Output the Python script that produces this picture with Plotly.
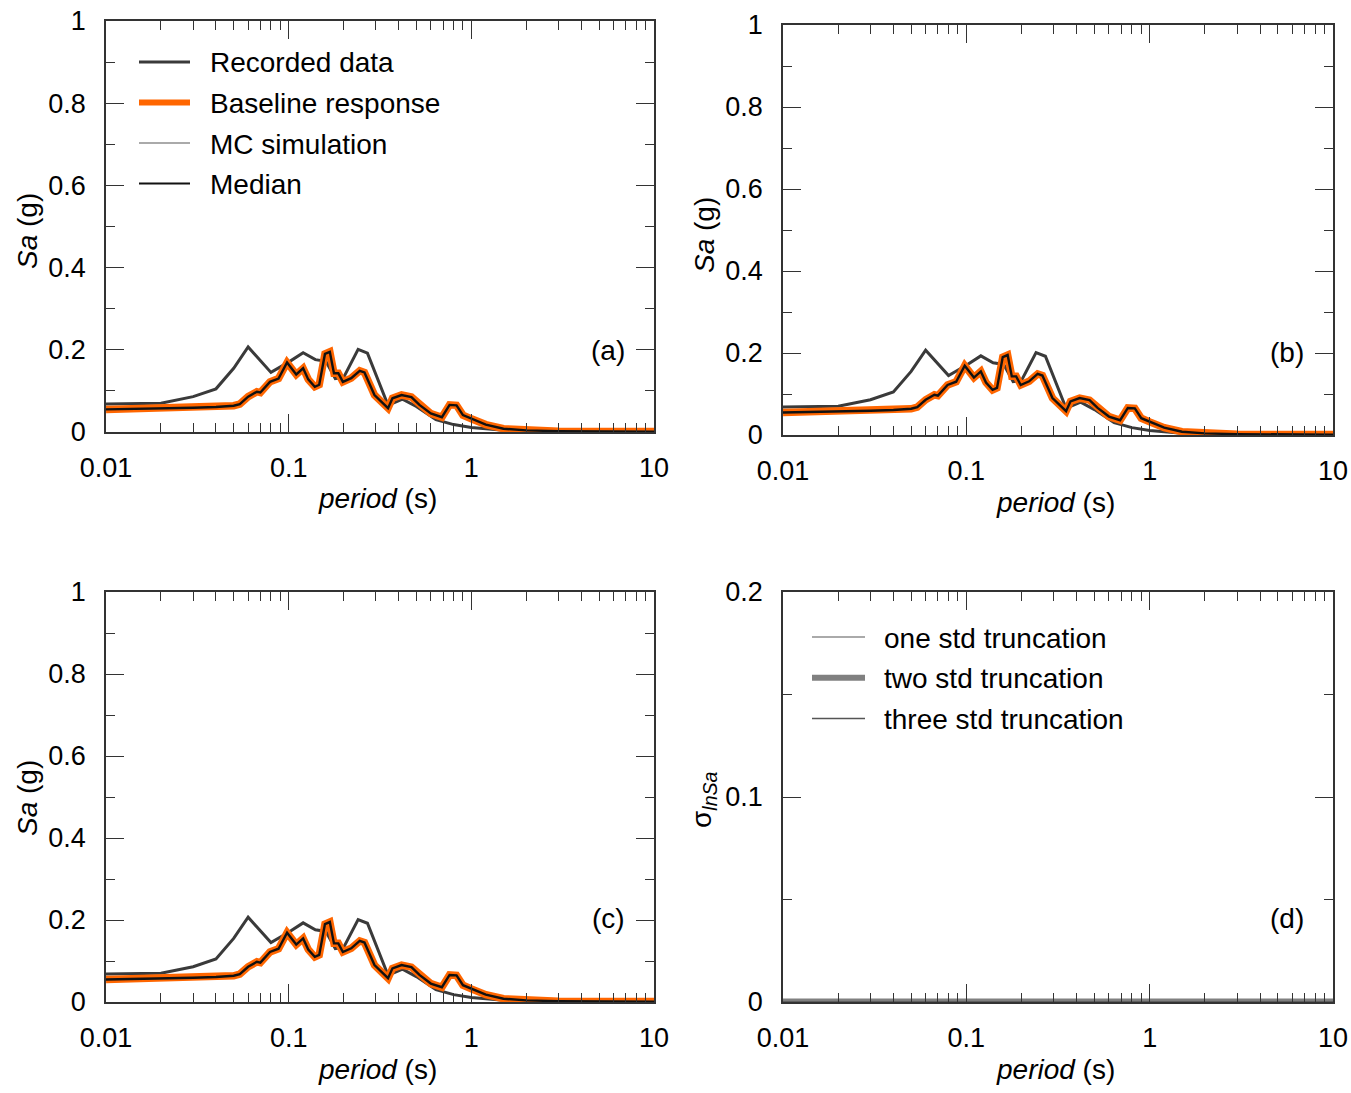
import plotly.graph_objects as go

# ---------------- data ----------------
# Recorded spectrum (period in s, Sa in g)
rec_period = [0.01, 0.02, 0.03, 0.04, 0.05, 0.06, 0.08, 0.10, 0.12, 0.14, 0.16,
              0.18, 0.20, 0.24, 0.27, 0.35, 0.42, 0.50, 0.64, 0.80, 1.0, 1.5,
              2.0, 3.0, 5.0, 10.0]
rec_sa = [0.068, 0.070, 0.086, 0.105, 0.155, 0.207, 0.145, 0.170, 0.193, 0.176,
          0.172, 0.130, 0.133, 0.201, 0.192, 0.065, 0.080, 0.062, 0.030, 0.018,
          0.011, 0.004, 0.002, 0.001, 0.001, 0.001]

# Baseline / MC / median response spectra
sim_period = [0.01, 0.02, 0.03, 0.04, 0.05, 0.054, 0.06, 0.067, 0.07, 0.079,
              0.088, 0.098, 0.11, 0.12, 0.128, 0.139, 0.147, 0.158, 0.168,
              0.177, 0.187, 0.198, 0.22, 0.245, 0.26, 0.295, 0.35, 0.37, 0.415,
              0.47, 0.52, 0.60, 0.69, 0.76, 0.83, 0.90, 1.0, 1.2, 1.5, 2.0,
              3.0, 5.0, 10.0]
baseline_sa = [0.055, 0.057, 0.059, 0.061, 0.064, 0.068, 0.086, 0.098, 0.096,
               0.122, 0.130, 0.169, 0.140, 0.155, 0.128, 0.110, 0.115, 0.190,
               0.195, 0.143, 0.143, 0.122, 0.131, 0.149, 0.145, 0.090, 0.058,
               0.082, 0.090, 0.085, 0.066, 0.045, 0.036, 0.066, 0.065, 0.041,
               0.032, 0.018, 0.008, 0.004, 0.002, 0.001, 0.001]
mc_sa = [0.055, 0.057, 0.059, 0.061, 0.064, 0.068, 0.086, 0.098, 0.096,
         0.122, 0.130, 0.169, 0.140, 0.155, 0.128, 0.110, 0.115, 0.190,
         0.195, 0.143, 0.143, 0.122, 0.131, 0.149, 0.145, 0.090, 0.058,
         0.082, 0.090, 0.085, 0.066, 0.045, 0.036, 0.066, 0.065, 0.041,
         0.032, 0.018, 0.008, 0.004, 0.002, 0.001, 0.001]
median_sa = [0.055, 0.057, 0.059, 0.061, 0.064, 0.068, 0.086, 0.098, 0.096,
             0.122, 0.130, 0.169, 0.140, 0.155, 0.128, 0.110, 0.115, 0.190,
             0.195, 0.143, 0.143, 0.122, 0.131, 0.149, 0.145, 0.090, 0.058,
             0.082, 0.090, 0.085, 0.066, 0.045, 0.036, 0.066, 0.065, 0.041,
             0.032, 0.018, 0.008, 0.004, 0.002, 0.001, 0.001]

# Dispersion of ln Sa for the truncation cases
sig_period = [0.01, 0.02, 0.05, 0.1, 0.2, 0.5, 1.0, 2.0, 5.0, 10.0]
sig_one = [0.0, 0.0, 0.0, 0.0, 0.0, 0.0, 0.0, 0.0, 0.0, 0.0]
sig_two = [0.0, 0.0, 0.0, 0.0, 0.0, 0.0, 0.0, 0.0, 0.0, 0.0]
sig_three = [0.0, 0.0, 0.0, 0.0, 0.0, 0.0, 0.0, 0.0, 0.0, 0.0]

x_tickvals = [0.01, 0.1, 1, 10]
x_ticktext = ["0.01", "0.1", "1", "10"]
panel_tags = ["(a)", "(b)", "(c)", "(d)"]

# ---------------- styling ----------------
W, H = 1351, 1093
FONT = "Liberation Sans, Arial, sans-serif"
FS_TICK = 27
FS = 28
AXC = "#333333"
C_REC = "#3a3a3a"
C_BASE = "#FF6600"
C_MC = "#AAAAAA"
C_MED = "#111111"


def px(x):
    return x / W


def py(y):
    return 1 - y / H


# plot-area boxes in pixels: (left, top, right, bottom)
boxes = [(106, 21, 654, 432), (783, 25, 1333, 435),
         (106, 592, 654, 1002), (783, 592, 1333, 1002)]

minor_x = [m * 10.0 ** e for e in (-2, -1, 0) for m in range(2, 10)]

fig = go.Figure()

for i, (l, t, r, b) in enumerate(boxes):
    n = "" if i == 0 else str(i + 1)
    xa, ya = "x" + n, "y" + n
    fig.update_layout(**{
        "xaxis" + n: dict(
            type="log", range=[-2, 1], domain=[px(l), px(r)], anchor=ya,
            tickmode="array", tickvals=x_tickvals, ticktext=x_ticktext,
            ticks="inside", ticklen=18, tickwidth=1, tickcolor=AXC,
            showline=True, linecolor=AXC, linewidth=1.5, mirror="ticks",
            showgrid=False, zeroline=False, ticklabelstandoff=11,
            automargin=False,
            tickfont=dict(family=FONT, size=FS_TICK, color="#000"),
            minor=dict(tickmode="array", tickvals=minor_x, ticks="inside",
                       ticklen=9, tickwidth=1, tickcolor=AXC, showgrid=False),
        ),
        "yaxis" + n: dict(
            range=[0, 0.2] if i == 3 else [0, 1],
            dtick=0.1 if i == 3 else 0.2,
            domain=[py(b), py(t)], anchor=xa,
            ticks="inside", ticklen=18, tickwidth=1, tickcolor=AXC,
            showline=True, linecolor=AXC, linewidth=1.5, mirror="ticks",
            showgrid=False, zeroline=False, ticklabelstandoff=13,
            automargin=False,
            tickfont=dict(family=FONT, size=FS_TICK, color="#000"),
            minor=dict(dtick=0.05 if i == 3 else 0.1, ticks="inside",
                       ticklen=9, tickwidth=1, tickcolor=AXC, showgrid=False),
        ),
    })

    if i < 3:
        fig.add_trace(go.Scatter(x=rec_period, y=rec_sa, mode="lines",
                                 line=dict(color=C_REC, width=3),
                                 xaxis=xa, yaxis=ya, showlegend=False))
        fig.add_trace(go.Scatter(x=sim_period, y=mc_sa, mode="lines",
                                 line=dict(color=C_MC, width=1.5),
                                 xaxis=xa, yaxis=ya, showlegend=False))
        fig.add_trace(go.Scatter(x=sim_period, y=baseline_sa, mode="lines",
                                 line=dict(color=C_BASE, width=7.5),
                                 xaxis=xa, yaxis=ya, showlegend=False))
        fig.add_trace(go.Scatter(x=sim_period, y=median_sa, mode="lines",
                                 line=dict(color=C_MED, width=2.4),
                                 xaxis=xa, yaxis=ya, showlegend=False))
    else:
        fig.add_trace(go.Scatter(x=sig_period, y=sig_one, mode="lines",
                                 line=dict(color="#AAAAAA", width=2),
                                 xaxis=xa, yaxis=ya, showlegend=False))
        fig.add_trace(go.Scatter(x=sig_period, y=sig_two, mode="lines",
                                 line=dict(color="#808080", width=7),
                                 xaxis=xa, yaxis=ya, showlegend=False))
        fig.add_trace(go.Scatter(x=sig_period, y=sig_three, mode="lines",
                                 line=dict(color="#555555", width=1.5),
                                 xaxis=xa, yaxis=ya, showlegend=False))

annotations = []
shapes = []


def text(x, y, s, anchor="center", angle=0, size=FS):
    annotations.append(dict(x=px(x), y=py(y), xref="paper", yref="paper",
                            text=s, showarrow=False, xanchor=anchor,
                            yanchor="middle", textangle=angle,
                            font=dict(family=FONT, size=size, color="#000")))


# axis titles and panel tags
for (l, t, r, b), tag, tx, ty in zip(boxes, panel_tags,
                                     [608, 1287, 608, 1287],
                                     [350, 352, 918, 918]):
    text((l + r) / 2 - 3, b + 67, "<i>period</i> (s)")
    text(tx, ty, tag)
text(27, 231, "<i>Sa</i> (g)", angle=-90)
text(704, 235, "<i>Sa</i> (g)", angle=-90)
text(27, 798, "<i>Sa</i> (g)", angle=-90)
text(703, 800, "σ<sub><i>lnSa</i></sub>", angle=-90)

# legend of panel (a)
leg_a = [("Recorded data", C_REC, 3), ("Baseline response", C_BASE, 6),
         ("MC simulation", C_MC, 2), ("Median", C_MED, 2)]
for k, (name, col, w) in enumerate(leg_a):
    yy = 62 + k * 40.5
    shapes.append(dict(type="line", xref="paper", yref="paper",
                       x0=px(139), x1=px(190), y0=py(yy), y1=py(yy),
                       line=dict(color=col, width=w)))
    text(208, yy + 1, name, anchor="left")

# legend of panel (d)
leg_d = [("one std truncation", "#AAAAAA", 2),
         ("two std truncation", "#808080", 6),
         ("three std truncation", "#555555", 1.5)]
for k, (name, col, w) in enumerate(leg_d):
    yy = 637 + k * 40.7
    shapes.append(dict(type="line", xref="paper", yref="paper",
                       x0=px(812), x1=px(865), y0=py(yy), y1=py(yy),
                       line=dict(color=col, width=w)))
    text(882, yy + 1, name, anchor="left")

fig.update_layout(
    width=W, height=H, margin=dict(l=0, r=0, t=0, b=0),
    paper_bgcolor="white", plot_bgcolor="white",
    showlegend=False, annotations=annotations, shapes=shapes,
    font=dict(family=FONT, size=FS, color="#000"),
)

fig.write_html("out.html")
